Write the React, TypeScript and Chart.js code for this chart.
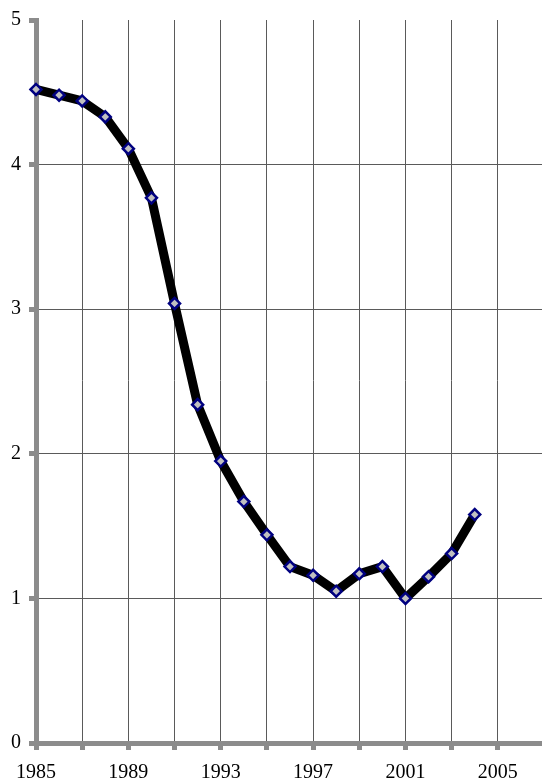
import React, { useEffect, useRef } from "react";
import { Chart, registerables } from "chart.js";

Chart.register(...registerables);

const years = [1985, 1986, 1987, 1988, 1989, 1990, 1991, 1992, 1993, 1994, 1995, 1996, 1997, 1998, 1999, 2000, 2001, 2002, 2003, 2004];
const values = [4.52, 4.48, 4.44, 4.33, 4.11, 3.77, 3.04, 2.34, 1.95, 1.67, 1.44, 1.22, 1.16, 1.05, 1.17, 1.22, 1.0, 1.15, 1.31, 1.58];
const xTickValues = [1985, 1987, 1989, 1991, 1993, 1995, 1997, 1999, 2001, 2003, 2005, 2007];
const xTickLabels = ["1985", "1989", "1993", "1997", "2001", "2005"];
const yTickValues = [0, 1, 2, 3, 4, 5];

const FONT = '"Liberation Serif", "Times New Roman", serif';
const AXIS = "#8c8c8c";
const GRID = "#5a5a5a";

export default function App() {
  const ref = useRef<HTMLCanvasElement | null>(null);

  useEffect(() => {
    const canvas = ref.current;
    if (!canvas) return;
    const chart = new Chart(canvas, {
      type: "line",
      data: {
        datasets: [
          {
            data: years.map((y, i) => ({ x: y, y: values[i] })),
            borderColor: "#000000",
            borderWidth: 9,
            borderJoinStyle: "round",
            tension: 0,
            pointStyle: "rectRot",
            pointRadius: 5.5,
            pointBorderWidth: 2.5,
            pointBorderColor: "#000080",
            pointBackgroundColor: "#c0c0c0",
            clip: false,
          } as any,
        ],
      },
      options: {
        responsive: false,
        animation: false,
        devicePixelRatio: 1,
        layout: { padding: { top: 20, left: 0, right: 16, bottom: 0 } },
        plugins: { legend: { display: false }, tooltip: { enabled: false } },
        scales: {
          x: {
            type: "linear",
            min: 1985,
            max: 2007,
            afterFit: (s: any) => {
              s.height = 40;
            },
            afterBuildTicks: (s: any) => {
              s.ticks = xTickValues.map((v) => ({ value: v }));
            },
            ticks: {
              autoSkip: false,
              maxRotation: 0,
              padding: 11,
              color: "#000",
              font: { family: FONT, size: 20 },
              callback: (v: any) => (xTickLabels.includes(String(v)) ? String(v) : ""),
            },
            grid: {
              color: GRID,
              lineWidth: 1,
              drawTicks: true,
              tickLength: 7,
              tickColor: AXIS,
              tickWidth: 5,
            },
            border: { display: true, color: AXIS, width: 5 },
          },
          y: {
            type: "linear",
            min: 0,
            max: 5,
            afterFit: (s: any) => {
              s.width = 36;
            },
            afterBuildTicks: (s: any) => {
              s.ticks = yTickValues.map((v) => ({ value: v }));
            },
            ticks: {
              padding: 8,
              color: "#000",
              font: { family: FONT, size: 20 },
              callback: (v: any) => String(v),
            },
            grid: {
              color: (ctx: any) => (ctx.tick && ctx.tick.value === 5 ? "rgba(0,0,0,0)" : GRID),
              lineWidth: 1,
              drawTicks: true,
              tickLength: 7,
              tickColor: AXIS,
              tickWidth: 5,
            },
            border: { display: true, color: AXIS, width: 5 },
          },
        },
      },
    });
    return () => chart.destroy();
  }, []);

  return (
    <div
      style={{
        position: "fixed",
        left: 0,
        top: 0,
        width: 542,
        height: 783,
        overflow: "hidden",
        background: "#ffffff",
      }}
    >
      <canvas ref={ref} width={560} height={783} style={{ display: "block" }} />
    </div>
  );
}
